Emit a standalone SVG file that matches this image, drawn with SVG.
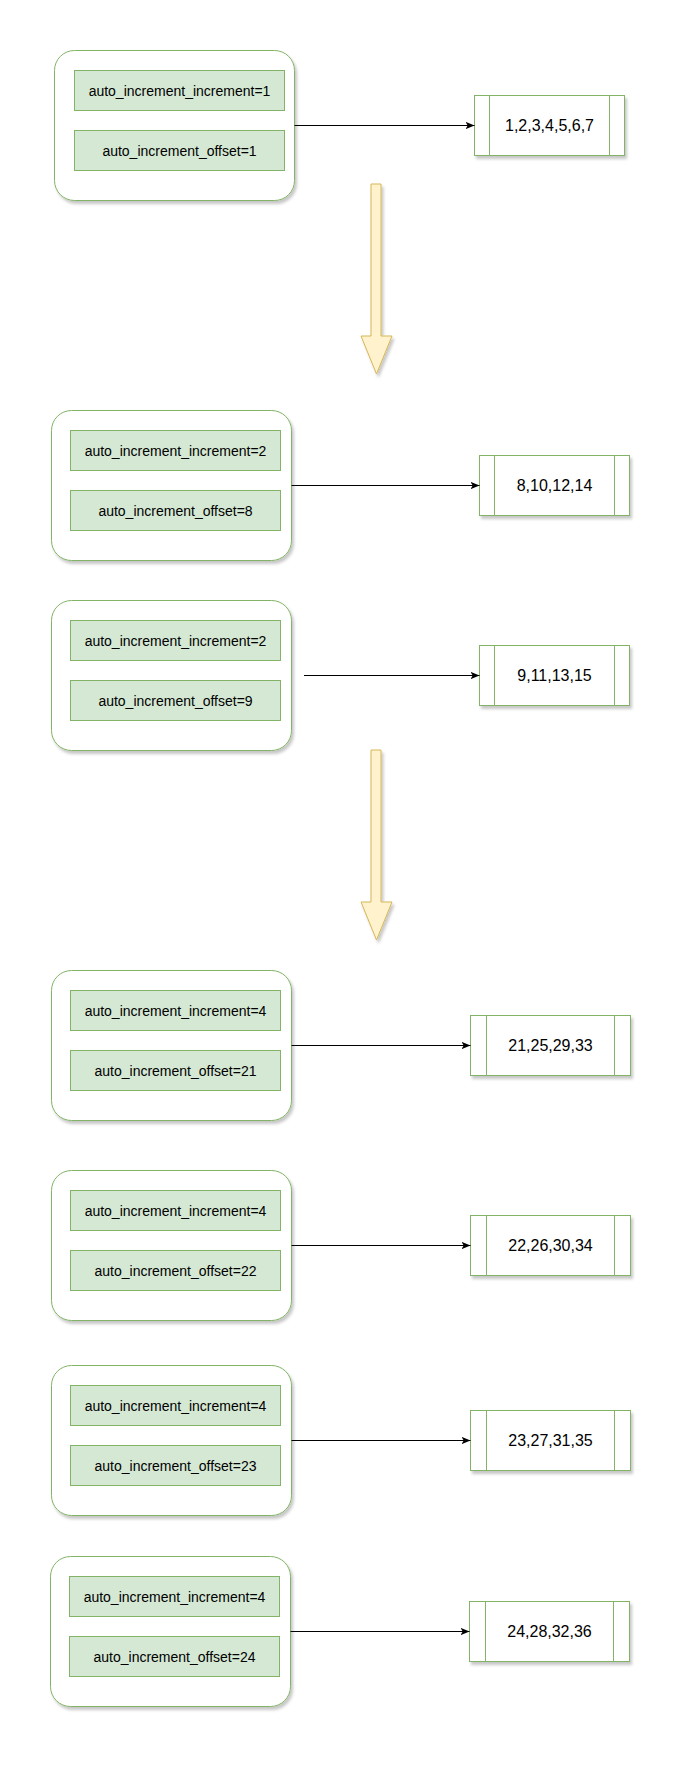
<svg xmlns="http://www.w3.org/2000/svg" width="692" height="1768" viewBox="0 0 692 1768">
<defs>
<filter id="sh" x="-10%" y="-10%" width="130%" height="130%">
<feDropShadow dx="2" dy="3" stdDeviation="1.5" flood-color="#000" flood-opacity="0.22"/>
</filter>
<marker id="ah" viewBox="0 0 10 8" markerWidth="9" markerHeight="7.2" refX="10" refY="4" orient="auto" markerUnits="userSpaceOnUse">
<path d="M0,0 L10,4 L0,8 L2.5,4 Z" fill="#000"/>
</marker>
<style>
.outer{fill:#fff;stroke:#82b366;stroke-width:1;filter:url(#sh)}
.inner{fill:#d5e8d4;stroke:#82b366;stroke-width:1}
.proc{fill:#fff;stroke:#82b366;stroke-width:1;filter:url(#sh)}
.pl{stroke:#82b366;stroke-width:1}
.lbl{font-family:"Liberation Sans",Arial,sans-serif;font-size:14px;fill:#000;text-anchor:middle;dominant-baseline:central}
.num{font-family:"Liberation Sans",Arial,sans-serif;font-size:16px;fill:#000;text-anchor:middle;dominant-baseline:central}
.edge{stroke:#000;stroke-width:1;fill:none;marker-end:url(#ah)}
.big{fill:#fff2cc;stroke:#d6b656;stroke-width:1;filter:url(#sh)}
</style>
</defs>
<rect width="692" height="1768" fill="#fff"/>

<g id="group1">
<rect class="outer" x="54.5" y="50.5" width="240" height="150" rx="20"/>
<rect class="inner" x="74.5" y="70.5" width="210" height="40"/>
<text class="lbl" x="179.5" y="90.5">auto_increment_increment=1</text>
<rect class="inner" x="74.5" y="130.5" width="210" height="40"/>
<text class="lbl" x="179.5" y="150.5">auto_increment_offset=1</text>
</g>
<g id="result1">
<rect class="proc" x="474.5" y="95.5" width="150" height="60"/>
<line class="pl" x1="489.5" y1="95.5" x2="489.5" y2="155.5"/>
<line class="pl" x1="609.5" y1="95.5" x2="609.5" y2="155.5"/>
<text class="num" x="549.5" y="125.5">1,2,3,4,5,6,7</text>
</g>

<g id="group2">
<rect class="outer" x="51.5" y="410.5" width="240" height="150" rx="20"/>
<rect class="inner" x="70.5" y="430.5" width="210" height="40"/>
<text class="lbl" x="175.5" y="450.5">auto_increment_increment=2</text>
<rect class="inner" x="70.5" y="490.5" width="210" height="40"/>
<text class="lbl" x="175.5" y="510.5">auto_increment_offset=8</text>
</g>
<g id="result2">
<rect class="proc" x="479.5" y="455.5" width="150" height="60"/>
<line class="pl" x1="494.5" y1="455.5" x2="494.5" y2="515.5"/>
<line class="pl" x1="614.5" y1="455.5" x2="614.5" y2="515.5"/>
<text class="num" x="554.5" y="485.5">8,10,12,14</text>
</g>

<g id="group3">
<rect class="outer" x="51.5" y="600.5" width="240" height="150" rx="20"/>
<rect class="inner" x="70.5" y="620.5" width="210" height="40"/>
<text class="lbl" x="175.5" y="640.5">auto_increment_increment=2</text>
<rect class="inner" x="70.5" y="680.5" width="210" height="40"/>
<text class="lbl" x="175.5" y="700.5">auto_increment_offset=9</text>
</g>
<g id="result3">
<rect class="proc" x="479.5" y="645.5" width="150" height="60"/>
<line class="pl" x1="494.5" y1="645.5" x2="494.5" y2="705.5"/>
<line class="pl" x1="614.5" y1="645.5" x2="614.5" y2="705.5"/>
<text class="num" x="554.5" y="675.5">9,11,13,15</text>
</g>

<g id="group4">
<rect class="outer" x="51.5" y="970.5" width="240" height="150" rx="20"/>
<rect class="inner" x="70.5" y="990.5" width="210" height="40"/>
<text class="lbl" x="175.5" y="1010.5">auto_increment_increment=4</text>
<rect class="inner" x="70.5" y="1050.5" width="210" height="40"/>
<text class="lbl" x="175.5" y="1070.5">auto_increment_offset=21</text>
</g>
<g id="result4">
<rect class="proc" x="470.5" y="1015.5" width="160" height="60"/>
<line class="pl" x1="486.5" y1="1015.5" x2="486.5" y2="1075.5"/>
<line class="pl" x1="614.5" y1="1015.5" x2="614.5" y2="1075.5"/>
<text class="num" x="550.5" y="1045.5">21,25,29,33</text>
</g>

<g id="group5">
<rect class="outer" x="51.5" y="1170.5" width="240" height="150" rx="20"/>
<rect class="inner" x="70.5" y="1190.5" width="210" height="40"/>
<text class="lbl" x="175.5" y="1210.5">auto_increment_increment=4</text>
<rect class="inner" x="70.5" y="1250.5" width="210" height="40"/>
<text class="lbl" x="175.5" y="1270.5">auto_increment_offset=22</text>
</g>
<g id="result5">
<rect class="proc" x="470.5" y="1215.5" width="160" height="60"/>
<line class="pl" x1="486.5" y1="1215.5" x2="486.5" y2="1275.5"/>
<line class="pl" x1="614.5" y1="1215.5" x2="614.5" y2="1275.5"/>
<text class="num" x="550.5" y="1245.5">22,26,30,34</text>
</g>

<g id="group6">
<rect class="outer" x="51.5" y="1365.5" width="240" height="150" rx="20"/>
<rect class="inner" x="70.5" y="1385.5" width="210" height="40"/>
<text class="lbl" x="175.5" y="1405.5">auto_increment_increment=4</text>
<rect class="inner" x="70.5" y="1445.5" width="210" height="40"/>
<text class="lbl" x="175.5" y="1465.5">auto_increment_offset=23</text>
</g>
<g id="result6">
<rect class="proc" x="470.5" y="1410.5" width="160" height="60"/>
<line class="pl" x1="486.5" y1="1410.5" x2="486.5" y2="1470.5"/>
<line class="pl" x1="614.5" y1="1410.5" x2="614.5" y2="1470.5"/>
<text class="num" x="550.5" y="1440.5">23,27,31,35</text>
</g>

<g id="group7">
<rect class="outer" x="50.5" y="1556.5" width="240" height="150" rx="20"/>
<rect class="inner" x="69.5" y="1576.5" width="210" height="40"/>
<text class="lbl" x="174.5" y="1596.5">auto_increment_increment=4</text>
<rect class="inner" x="69.5" y="1636.5" width="210" height="40"/>
<text class="lbl" x="174.5" y="1656.5">auto_increment_offset=24</text>
</g>
<g id="result7">
<rect class="proc" x="469.5" y="1601.5" width="160" height="60"/>
<line class="pl" x1="485.5" y1="1601.5" x2="485.5" y2="1661.5"/>
<line class="pl" x1="613.5" y1="1601.5" x2="613.5" y2="1661.5"/>
<text class="num" x="549.5" y="1631.5">24,28,32,36</text>
</g>

<g id="bigarrow1">
<polygon class="big" points="371,184 381,184 381,336 392,336 376.5,374 361,336 371,336"/>
</g>
<g id="bigarrow2">
<polygon class="big" points="371,750 381,750 381,902 392,902 376.5,940 361,902 371,902"/>
</g>

<g id="connectors">
<line class="edge" x1="294.5" y1="125.5" x2="474.5" y2="125.5"/>
<line class="edge" x1="291.5" y1="485.5" x2="479.5" y2="485.5"/>
<line class="edge" x1="304" y1="675.5" x2="479.5" y2="675.5"/>
<line class="edge" x1="291.5" y1="1045.5" x2="470.5" y2="1045.5"/>
<line class="edge" x1="291.5" y1="1245.5" x2="470.5" y2="1245.5"/>
<line class="edge" x1="291.5" y1="1440.5" x2="470.5" y2="1440.5"/>
<line class="edge" x1="290.5" y1="1631.5" x2="469.5" y2="1631.5"/>
</g>
</svg>
